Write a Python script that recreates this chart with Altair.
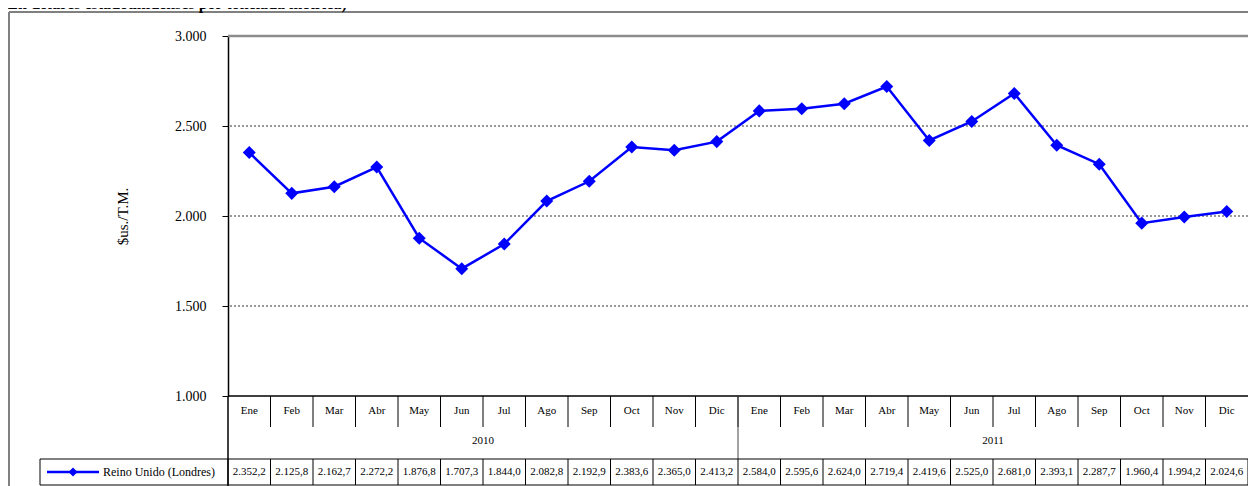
import altair as alt
import pandas as pd

months = ["Ene", "Feb", "Mar", "Abr", "May", "Jun", "Jul", "Ago", "Sep", "Oct", "Nov", "Dic"]
years = ["2010", "2011"]
values = [2352.2, 2125.8, 2162.7, 2272.2, 1876.8, 1707.3, 1844.0, 2082.8, 2192.9, 2383.6, 2365.0, 2413.2,
          2584.0, 2595.6, 2624.0, 2719.4, 2419.6, 2525.0, 2681.0, 2393.1, 2287.7, 1960.4, 1994.2, 2024.6]
series_name = "Reino Unido (Londres)"
y_ticks = [1000, 1500, 2000, 2500, 3000]
grid_values = [1500, 2000, 2500]
title_text = "(En dólares estadounidenses por tonelada métrica)"
y_title = "$us./T.M."

FONT = "Liberation Serif"
BLUE = "#0000FF"
n = len(values)
month_labels = [m for _ in years for m in months]


def fmt(v):
    s = f"{v:,.1f}"
    return s.replace(",", "X").replace(".", ",").replace("X", ".")


df = pd.DataFrame({
    "pos": [i + 0.5 for i in range(n)],
    "value": values,
    "month": month_labels,
    "label": [fmt(v) for v in values],
})
sep_df = pd.DataFrame({"b": [i for i in range(1, n)]})
data_sep_df = pd.DataFrame({"b": [i for i in range(0, n + 1)]})
year_df = pd.DataFrame({"pos": [len(months) * (k + 0.5) for k in range(len(years))], "year": years})
year_sep_df = pd.DataFrame({"b": [len(months) * k for k in range(1, len(years))]})
grid_df = pd.DataFrame({"v": grid_values})
top_df = pd.DataFrame({"v": [y_ticks[-1]]})
bot_df = pd.DataFrame({"v": [y_ticks[0]]})

x_scale = alt.Scale(domain=[0, n], nice=False, zero=False)
y_scale = alt.Scale(domain=[y_ticks[0], y_ticks[-1]], nice=False, zero=False)

y_axis = alt.Axis(
    values=y_ticks,
    labelExpr="replace(format(datum.value, ',d'), ',', '.')",
    grid=False,
    domainColor="black", domainWidth=1.5,
    tickColor="black", tickSize=6, tickWidth=1,
    labelFont=FONT, labelFontSize=14, labelColor="black", labelPadding=16,
    title=y_title, titleFont=FONT, titleFontSize=15, titleFontWeight="normal", titleColor="black",
    titleX=-106, titleY=180, titleAlign="center", titleBaseline="middle", titleAngle=270,
)

W = 1020

grid = alt.Chart(grid_df).mark_rule(color="#333333", strokeWidth=1, strokeDash=[2, 2]).encode(
    y=alt.Y("v:Q", scale=y_scale, axis=y_axis))
top = alt.Chart(top_df).mark_rule(color="#8c8c8c", strokeWidth=2.5).encode(
    y=alt.Y("v:Q", scale=y_scale, axis=y_axis))
bottom = alt.Chart(bot_df).mark_rule(color="black", strokeWidth=1.5).encode(
    y=alt.Y("v:Q", scale=y_scale, axis=y_axis))

line = alt.Chart(df).mark_line(color=BLUE, strokeWidth=2.5).encode(
    x=alt.X("pos:Q", scale=x_scale, axis=None),
    y=alt.Y("value:Q", scale=y_scale, axis=y_axis))
points = alt.Chart(df).mark_point(shape="diamond", filled=True, size=170, color=BLUE, opacity=1).encode(
    x=alt.X("pos:Q", scale=x_scale, axis=None),
    y=alt.Y("value:Q", scale=y_scale, axis=y_axis))

# category table
month_sep = alt.Chart(sep_df).mark_rule(color="black", strokeWidth=1).encode(
    x=alt.X("b:Q", scale=x_scale, axis=None), y=alt.value(360), y2=alt.value(391))
year_sep = alt.Chart(year_sep_df).mark_rule(color="#444444", strokeWidth=1).encode(
    x=alt.X("b:Q", scale=x_scale, axis=None), y=alt.value(360), y2=alt.value(423))
left_border = alt.Chart(bot_df).mark_rule(color="black", strokeWidth=1.5).encode(
    x=alt.value(0), y=alt.value(360), y2=alt.value(460))
data_sep = alt.Chart(data_sep_df).mark_rule(color="black", strokeWidth=1).encode(
    x=alt.X("b:Q", scale=x_scale, axis=None), y=alt.value(423), y2=alt.value(449))
row_top = alt.Chart(bot_df).mark_rule(color="black", strokeWidth=1).encode(
    x=alt.value(-188), x2=alt.value(W + 20), y=alt.value(423))
row_bot = alt.Chart(bot_df).mark_rule(color="black", strokeWidth=1).encode(
    x=alt.value(-188), x2=alt.value(W + 20), y=alt.value(449))
row_left = alt.Chart(bot_df).mark_rule(color="black", strokeWidth=1).encode(
    x=alt.value(-188), y=alt.value(423), y2=alt.value(449))

month_text = alt.Chart(df).mark_text(font=FONT, fontSize=11, baseline="middle", color="black").encode(
    x=alt.X("pos:Q", scale=x_scale, axis=None), y=alt.value(375), text="month:N")
year_text = alt.Chart(year_df).mark_text(font=FONT, fontSize=11, baseline="middle", color="black").encode(
    x=alt.X("pos:Q", scale=x_scale, axis=None), y=alt.value(405), text="year:N")
value_text = alt.Chart(df).mark_text(font=FONT, fontSize=11, baseline="middle", color="black").encode(
    x=alt.X("pos:Q", scale=x_scale, axis=None), y=alt.value(436), text="label:N")

name_df = pd.DataFrame({"name": [series_name]})
leg_line = alt.Chart(name_df).mark_rule(color=BLUE, strokeWidth=2.5).encode(
    x=alt.value(-181), x2=alt.value(-129), y=alt.value(436))
leg_point = alt.Chart(name_df).mark_point(shape="diamond", filled=True, size=80, color=BLUE, opacity=1).encode(
    x=alt.value(-155), y=alt.value(436))
leg_text = alt.Chart(name_df).mark_text(font=FONT, fontSize=12, align="left", baseline="middle", color="black").encode(
    x=alt.value(-125), y=alt.value(436), text="name:N")

title_df = pd.DataFrame({"t": [title_text]})
title = alt.Chart(title_df).mark_text(font=FONT, fontSize=16, fontWeight="bold", align="left",
                                      baseline="alphabetic", color="black").encode(
    x=alt.value(-226), y=alt.value(-27), text="t:N")

frame_left = alt.Chart(bot_df).mark_rule(color="#808080", strokeWidth=2).encode(
    x=alt.value(-219), y=alt.value(-24), y2=alt.value(470))
frame_top = alt.Chart(bot_df).mark_rule(color="#808080", strokeWidth=2).encode(
    x=alt.value(-219), x2=alt.value(W + 20), y=alt.value(-24))

chart = alt.layer(
    grid, top, bottom, line, points,
    frame_left, frame_top, title,
    month_sep, year_sep, left_border, data_sep, row_top, row_bot, row_left,
    month_text, year_text, value_text,
    leg_line, leg_point, leg_text,
).properties(
    width=W, height=360,
    autosize=alt.AutoSizeParams(type="none"),
    padding={"left": 220, "top": 28, "right": 0, "bottom": 90},
).configure_view(stroke=None)

chart.save("out.html", embed_options={"renderer": "svg", "actions": False})
